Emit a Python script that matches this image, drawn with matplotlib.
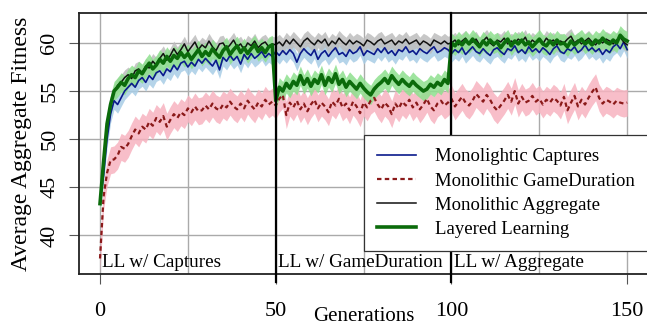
import numpy as np
import matplotlib
matplotlib.use('Agg')
import matplotlib.pyplot as plt

plt.rcParams['font.family'] = ['Liberation Serif', 'DejaVu Serif']

# mean fitness per generation (0..150)
captures = [43.4, 46.2, 50.0, 52.6, 54.0, 53.6, 54.3, 55.0, 55.4, 55.8,
            55.4, 56.1, 56.4, 55.9, 56.6, 56.2, 56.9, 57.1, 56.6, 57.3,
            57.0, 57.7, 57.2, 57.9, 58.1, 57.5, 58.0, 57.6, 58.3, 57.9,
            58.4, 58.0, 57.6, 58.2, 57.2, 58.5, 58.1, 58.7, 58.2, 58.6,
            57.8, 58.8, 58.3, 58.9, 58.4, 58.7, 59.1, 58.5, 58.9, 58.6,
            59.1, 58.7, 59.2, 58.8, 59.3, 58.9, 58.0, 58.9, 59.4, 59.0,
            58.7, 59.3, 58.3, 58.9, 59.2, 58.6, 59.1, 59.5, 58.8, 59.0,
            58.6, 59.3, 58.9, 59.1, 59.6, 58.7, 59.2, 59.0, 58.8, 59.4,
            59.0, 59.5, 58.9, 59.2, 58.7, 59.3, 59.1, 59.6, 59.0, 59.2,
            58.8, 59.4, 59.1, 58.9, 59.3, 59.6, 59.0, 59.2, 59.5, 59.3,
            58.9, 59.3, 59.0, 59.5, 58.8, 59.2, 59.6, 59.1, 58.9, 59.4,
            59.0, 58.7, 59.3, 59.5, 59.1, 58.8, 59.4, 59.2, 59.7, 59.0,
            59.3, 58.9, 59.6, 59.1, 59.4, 59.0, 59.5, 59.2, 58.8, 59.4,
            59.7, 59.1, 58.9, 59.4, 59.2, 59.6, 59.0, 59.3, 59.8, 59.2,
            59.5, 59.1, 59.4, 58.8, 59.3, 59.0, 59.6, 59.9, 59.4, 60.1,
            59.3]

gameduration = [37.6, 44.0, 46.5, 47.8, 47.9, 48.3, 49.2, 49.0, 49.5, 50.3,
                51.0, 50.6, 51.3, 51.0, 51.8, 51.4, 52.2, 51.8, 52.4, 51.3,
                52.0, 52.6, 52.2, 52.8, 52.5, 53.2, 52.8, 53.4, 52.9, 53.0,
                53.5, 53.1, 53.7, 53.2, 53.0, 53.6, 53.3, 53.9, 53.4, 53.1,
                53.7, 53.2, 54.0, 53.5, 53.1, 53.8, 53.4, 54.1, 53.6, 53.9,
                53.5, 54.2, 54.6, 52.5, 53.8, 53.3, 54.0, 53.1, 53.7, 52.9,
                53.6, 54.1, 53.2, 53.8, 53.4, 52.8, 53.9, 53.5, 54.2, 53.3,
                53.7, 53.0, 53.9, 53.4, 52.7, 53.8, 53.3, 54.0, 54.3, 53.6,
                53.1, 53.8, 53.4, 52.6, 53.7, 53.2, 53.9, 53.5, 54.1, 53.3,
                53.8, 53.1, 53.6, 54.2, 53.4, 53.0, 53.7, 54.0, 53.5, 53.8,
                54.2, 53.4, 53.9, 54.4, 53.8, 53.5, 54.0, 54.7, 54.3, 53.9,
                54.6, 54.1, 53.4, 53.0, 53.5, 54.0, 54.6, 53.9, 55.0, 53.7,
                54.4, 53.8, 54.0, 54.5, 53.9, 54.2, 53.6, 54.1, 53.8, 54.3,
                54.0, 53.5, 54.4, 53.0, 53.8, 54.5, 53.4, 54.1, 53.6, 54.3,
                54.9, 55.4, 54.3, 53.7, 54.1, 53.9, 53.6, 54.0, 53.8, 53.7,
                53.8]

aggregate = [43.5, 47.2, 51.0, 53.6, 54.9, 55.6, 55.9, 56.4, 56.7, 56.3,
             57.1, 57.3, 56.9, 57.6, 57.4, 58.1, 57.7, 58.4, 58.9, 58.2,
             58.7, 59.4, 58.8, 59.3, 59.9, 59.1, 59.6, 60.1, 59.3, 59.8,
             59.5, 60.2, 59.6, 59.2, 59.9, 60.0, 59.4, 59.8, 60.3, 59.6,
             59.9, 59.3, 60.0, 59.7, 60.2, 59.5, 59.9, 60.1, 59.6, 59.9,
             59.8, 60.1, 59.7, 60.3, 59.9, 60.4, 60.0, 59.6, 60.2, 60.5,
             60.1, 59.8, 60.3, 60.0, 60.4, 59.7, 60.2, 59.9, 60.5, 60.1,
             59.8, 60.3, 59.9, 60.2, 60.0, 59.7, 60.3, 60.1, 59.8, 60.2,
             60.4, 59.9, 60.1, 60.3, 59.8, 60.2, 60.0, 60.4, 59.9, 60.1,
             60.3, 59.8, 60.2, 60.0, 59.7, 60.3, 60.1, 59.9, 60.2, 59.9,
             60.0, 60.3, 59.8, 60.2, 60.5, 59.9, 60.1, 60.4, 59.8, 60.2,
             60.6, 60.0, 59.7, 60.3, 60.1, 60.5, 59.9, 60.2, 60.0, 60.4,
             60.1, 60.6, 59.8, 60.3, 60.0, 60.2, 59.9, 60.5, 60.1, 60.3,
             59.8, 60.2, 60.0, 60.4, 60.7, 60.0, 60.3, 59.9, 60.2, 60.5,
             60.1, 59.8, 60.3, 60.0, 60.4, 60.2, 59.9, 60.3, 60.6, 60.1,
             59.8]

layered = [43.3, 47.6, 51.6, 53.6, 55.0, 55.4, 55.9, 55.6, 56.3, 56.7,
           56.4, 57.1, 56.8, 57.4, 57.9, 57.3, 57.7, 58.3, 57.9, 58.6,
           58.1, 58.7, 58.4, 59.0, 58.5, 58.9, 58.3, 58.8, 59.3, 58.6,
           59.1, 58.7, 59.4, 58.9, 58.5, 59.2, 59.6, 58.8, 59.3, 59.7,
           59.0, 59.5, 58.9, 59.4, 59.8, 59.1, 59.5, 59.0, 59.6, 59.8,
           54.0, 55.4, 55.0, 55.8, 55.3, 56.0, 55.6, 56.6, 55.7, 56.3,
           55.5, 56.2, 55.8, 56.7, 55.6, 56.4, 55.9, 56.8, 55.7, 56.2,
           55.4, 56.0, 55.6, 55.2, 55.8, 55.3, 54.9, 54.6, 55.2, 55.6,
           55.9, 56.3, 55.8, 56.6, 56.1, 55.7, 56.2, 55.8, 55.5, 56.0,
           55.6, 55.3, 55.0, 55.2, 55.7, 55.4, 55.9, 55.6, 56.2, 55.8,
           60.0, 59.7, 60.2, 59.8, 60.3, 59.9, 60.4, 60.0, 59.6, 60.2,
           59.8, 60.3, 59.9, 60.1, 59.5, 60.0, 60.4, 59.7, 60.2, 59.9,
           60.3, 59.8, 60.1, 59.6, 60.0, 60.4, 59.9, 59.7, 60.2, 59.8,
           60.3, 59.9, 60.0, 59.6, 60.2, 59.8, 60.1, 60.4, 59.9, 60.2,
           59.8, 60.3, 60.0, 60.5, 60.1, 59.9, 60.3, 60.0, 60.8, 60.4,
           60.2]

# approximate half-width of the shaded bands
band_captures = 0.9
band_gameduration = 1.4
band_aggregate = 0.8
band_layered = 1.0

gens = np.arange(len(captures))
labels = ['Monolightic Captures', 'Monolithic GameDuration',
          'Monolithic Aggregate', 'Layered Learning']
phase_names = ['LL w/ Captures', 'LL w/ GameDuration', 'LL w/ Aggregate']
phase_starts = [0, 50, 100]

fig = plt.figure(figsize=(6.47, 3.28), dpi=100)
ax = fig.add_axes([0.122, 0.165, 0.88, 0.795])

for g in range(0, 151, 25):
    ax.axvline(g, color='#AAAAAA', lw=1, zorder=0)
for v in range(40, 61, 5):
    ax.axhline(v, color='#AAAAAA', lw=1, zorder=0)

# (values, band, band colour, line colour, style, width, label)
series = [
    (gameduration, band_gameduration, '#F7B3C0', '#8B1A1A', '--', 1.6, labels[1]),
    (captures, band_captures, '#A8CDE6', '#0A1A8C', '-', 1.2, labels[0]),
    (aggregate, band_aggregate, '#BEBEBE', '#111111', '-', 1.1, labels[2]),
    (layered, band_layered, '#8EE08E', '#0B6B0B', '-', 2.6, labels[3]),
]
for vals, bw, fc, lc, ls, lw, lab in series:
    vals = np.asarray(vals)
    ax.fill_between(gens, vals - bw, vals + bw, color=fc, alpha=0.85, lw=0, zorder=1)

handles = {}
for vals, bw, fc, lc, ls, lw, lab in series:
    if ls == '--':
        h, = ax.plot(gens, vals, color=lc, lw=lw, zorder=3, dashes=(2, 1.5))
    else:
        h, = ax.plot(gens, vals, color=lc, lw=lw, zorder=3)
    handles[lab] = h

ax.axvline(50, color='black', lw=1.6, zorder=4, ymin=-0.03, clip_on=False)
ax.axvline(100, color='black', lw=1.6, zorder=4, ymin=-0.03, clip_on=False)

for name, s in zip(phase_names, phase_starts):
    ax.text(s + 0.6, 36.25, name, fontsize=13.8, ha='left', va='bottom', zorder=5)

ax.set_xlim(-6, 156)
ax.set_ylim(36, 63.1)
ax.set_xticks([0, 50, 100, 150])
ax.set_yticks([40, 45, 50, 55, 60])
ax.tick_params(axis='both', length=7, width=0.8, color='#555555', labelsize=16)
ax.tick_params(axis='x', pad=13)
ax.tick_params(axis='y', pad=7)
for t in ax.get_yticklabels():
    t.set_rotation(90)
    t.set_va('center')
for sp in ax.spines.values():
    sp.set_linewidth(1.3)
    sp.set_color('#222222')

ax.set_xlabel('Generations', fontsize=15, labelpad=-10)
ax.set_ylabel('Average Aggregate Fitness', fontsize=17)
ax.yaxis.set_label_coords(-0.083, 0.5)

leg = ax.legend([handles[l] for l in labels], labels,
                loc='upper left', bbox_to_anchor=(364 / 647, 1 - 135 / 328),
                bbox_transform=fig.transFigure, fontsize=13.5, frameon=True,
                fancybox=False, edgecolor='#333333', framealpha=1,
                handlelength=2.1, handletextpad=1.0, borderpad=0.7,
                labelspacing=0.38, borderaxespad=0)
leg.get_frame().set_linewidth(0.9)
leg.set_zorder(10)

fig.savefig('out.png', dpi=100)
